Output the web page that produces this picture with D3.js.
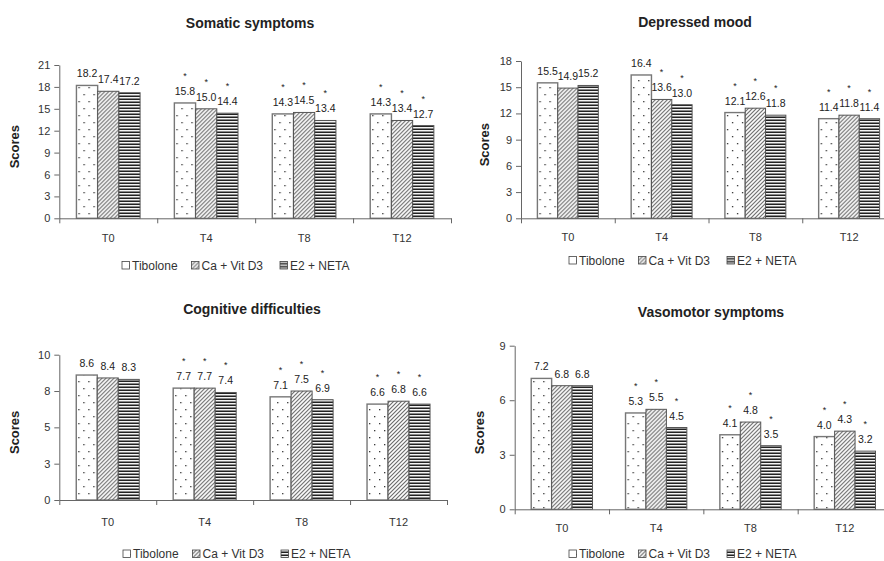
<!DOCTYPE html>
<html>
<head>
<meta charset="utf-8">
<script src="https://cdn.jsdelivr.net/npm/d3@7"></script>
<style>
  body { margin: 0; background: #fff; }
  text { font-family: "Liberation Sans", Arial, sans-serif; fill: #222; }
</style>
</head>
<body>
<svg id="chart" width="884" height="561"></svg>
<script>
// time points and treatment groups
const categories = ["T0", "T4", "T8", "T12"];
const groups = ["Tibolone", "Ca + Vit D3", "E2 + NETA"];

// mean scores, one row per time point: [Tibolone, Ca + Vit D3, E2 + NETA]
const somaticScores   = [[18.2, 17.4, 17.2], [15.8, 15.0, 14.4], [14.3, 14.5, 13.4], [14.3, 13.4, 12.7]];
const depressedScores = [[15.5, 14.9, 15.2], [16.4, 13.6, 13.0], [12.1, 12.6, 11.8], [11.4, 11.8, 11.4]];
const cognitiveScores = [[8.6, 8.4, 8.3], [7.7, 7.7, 7.4], [7.1, 7.5, 6.9], [6.6, 6.8, 6.6]];
const vasomotorScores = [[7.2, 6.8, 6.8], [5.3, 5.5, 4.5], [4.1, 4.8, 3.5], [4.0, 4.3, 3.2]];

// significance stars (1 = "*")
const somaticSig   = [[0, 0, 0], [1, 1, 1], [1, 1, 1], [1, 1, 1]];
const depressedSig = [[0, 0, 0], [0, 1, 1], [1, 1, 1], [1, 1, 1]];
const cognitiveSig = [[0, 0, 0], [1, 1, 1], [1, 1, 1], [1, 1, 1]];
const vasomotorSig = [[0, 0, 0], [1, 1, 1], [1, 1, 1], [1, 1, 1]];

// y ticks and their printed labels
const somaticTicks   = [0, 3, 6, 9, 12, 15, 18, 21];
const depressedTicks = [0, 3, 6, 9, 12, 15, 18];
const cognitiveTicks = [0, 2.5, 5, 7.5, 10];
const cognitiveTickLabels = ["0", "3", "5", "8", "10"];
const vasomotorTicks = [0, 3, 6, 9];

const svg = d3.select("#chart");
const defs = svg.append("defs");

// fill patterns, one per group
const pDots = defs.append("pattern").attr("id", "pDots")
  .attr("patternUnits", "userSpaceOnUse").attr("width", 10).attr("height", 14);
pDots.append("rect").attr("width", 10).attr("height", 14).attr("fill", "#fff");
pDots.append("rect").attr("x", 2).attr("y", 3).attr("width", 1.3).attr("height", 1.3).attr("fill", "#333");
pDots.append("rect").attr("x", 7).attr("y", 10).attr("width", 1.3).attr("height", 1.3).attr("fill", "#333");

const pDiag = defs.append("pattern").attr("id", "pDiag")
  .attr("patternUnits", "userSpaceOnUse").attr("width", 4).attr("height", 4);
pDiag.append("rect").attr("width", 4).attr("height", 4).attr("fill", "#fff");
pDiag.append("path").attr("d", "M-1,1L1,-1M0,4L4,0M3,5L5,3")
  .attr("stroke", "#666").attr("stroke-width", 1.1);

const pHoriz = defs.append("pattern").attr("id", "pHoriz")
  .attr("patternUnits", "userSpaceOnUse").attr("width", 4).attr("height", 3);
pHoriz.append("rect").attr("width", 4).attr("height", 3).attr("fill", "#888");
pHoriz.append("rect").attr("y", 0).attr("width", 4).attr("height", 1).attr("fill", "#222");
pHoriz.append("rect").attr("y", 1).attr("width", 4).attr("height", 1).attr("fill", "#f4f4f4");

const fills = ["url(#pDots)", "url(#pDiag)", "url(#pHoriz)"];

const panels = [
  { title: "Somatic symptoms", scores: somaticScores, sig: somaticSig, ticks: somaticTicks,
    x0: 59.3, x1: 451, yb: 218.3, yt: 65, titleX: 250, titleY: 28, labX: 15, catY: 242, legX: 122, legY: 269.5 },
  { title: "Depressed mood", scores: depressedScores, sig: depressedSig, ticks: depressedTicks,
    x0: 521, x1: 896, yb: 218.3, yt: 61, titleX: 695, titleY: 27, labX: 485, catY: 241, legX: 569, legY: 264.5 },
  { title: "Cognitive difficulties", scores: cognitiveScores, sig: cognitiveSig, ticks: cognitiveTicks,
    tickLabels: cognitiveTickLabels,
    x0: 59.3, x1: 447, yb: 500, yt: 354.7, titleX: 252, titleY: 314, labX: 15, catY: 526, legX: 123, legY: 558 },
  { title: "Vasomotor symptoms", scores: vasomotorScores, sig: vasomotorSig, ticks: vasomotorTicks,
    x0: 514.7, x1: 892, yb: 509.3, yt: 345.7, titleX: 711, titleY: 317, labX: 480, catY: 532, legX: 569, legY: 558 }
];

panels.forEach(drawPanel);

function drawPanel(p) {
  const g = svg.append("g");
  const yMax = p.ticks[p.ticks.length - 1];

  const x = d3.scaleBand().domain(categories).range([p.x0, p.x1])
    .paddingInner(0.35).paddingOuter(0.175);
  const xg = d3.scaleBand().domain(groups).range([0, x.bandwidth()]);
  const y = d3.scaleLinear().domain([0, yMax]).range([p.yb, p.yt]);

  // title
  g.append("text").attr("x", p.titleX).attr("y", p.titleY)
    .attr("text-anchor", "middle").attr("font-size", "14px").attr("font-weight", "bold")
    .text(p.title);

  // y axis label
  g.append("text")
    .attr("transform", "translate(" + (p.labX + 4) + "," + ((p.yb + p.yt) / 2 + 5) + ") rotate(-90)")
    .attr("text-anchor", "middle").attr("font-size", "13px").attr("font-weight", "bold")
    .text("Scores");

  // bars
  const rows = g.selectAll("g.cat").data(p.scores).enter().append("g")
    .attr("class", "cat")
    .attr("transform", (d, i) => "translate(" + x(categories[i]) + ",0)");

  rows.selectAll("rect").data(d => d).enter().append("rect")
    .attr("x", (d, j) => xg(groups[j]))
    .attr("y", d => y(d))
    .attr("width", xg.bandwidth())
    .attr("height", d => y(0) - y(d))
    .attr("fill", (d, j) => fills[j])
    .attr("stroke", (d, j) => j === 0 ? "#777" : "#555")
    .attr("stroke-width", (d, j) => j === 0 ? 1.4 : 1);

  // value labels
  rows.selectAll("text.val").data(d => d).enter().append("text")
    .attr("class", "val")
    .attr("x", (d, j) => xg(groups[j]) + xg.bandwidth() / 2)
    .attr("y", d => y(d) - 8)
    .attr("text-anchor", "middle").attr("font-size", "10.5px")
    .text(d => d.toFixed(1));

  // significance stars
  rows.each(function (d, i) {
    const row = d3.select(this);
    p.sig[i].forEach((s, j) => {
      if (!s) return;
      row.append("text").attr("class", "star")
        .attr("x", xg(groups[j]) + xg.bandwidth() / 2)
        .attr("y", y(d[j]) - 24)
        .attr("text-anchor", "middle").attr("font-size", "9px")
        .text("*");
    });
  });

  // y axis
  const yAxis = d3.axisLeft(y).tickValues(p.ticks).tickSizeInner(5).tickSizeOuter(0).tickPadding(4)
    .tickFormat((d, i) => p.tickLabels ? p.tickLabels[i] : d3.format("d")(d));
  const ya = g.append("g").attr("transform", "translate(" + p.x0 + ",0)").call(yAxis);
  ya.selectAll("text").attr("font-size", "11px").style("fill", "#333");
  ya.selectAll("path, line").attr("stroke", "#666");

  // category axis with tick marks between categories
  const xb = d3.scaleLinear().domain([0, categories.length]).range([p.x0, p.x1]);
  const xa = g.append("g").attr("transform", "translate(0," + p.yb + ")")
    .call(d3.axisBottom(xb).tickValues(d3.range(categories.length + 1))
      .tickSizeInner(5).tickSizeOuter(0).tickFormat(""));
  xa.selectAll("path, line").attr("stroke", "#666");

  g.selectAll("text.cat").data(categories).enter().append("text")
    .attr("class", "cat")
    .attr("x", d => x(d) + x.bandwidth() / 2)
    .attr("y", p.catY)
    .attr("text-anchor", "middle").attr("font-size", "11px").style("fill", "#333")
    .text(d => d);

  // legend
  const legOffsets = [0, 69.5, 158];
  const leg = g.selectAll("g.leg").data(groups).enter().append("g")
    .attr("class", "leg")
    .attr("transform", (d, j) => "translate(" + (p.legX + legOffsets[j]) + "," + p.legY + ")");
  leg.append("rect").attr("x", 0).attr("y", -8).attr("width", 7.5).attr("height", 7.5)
    .attr("fill", (d, j) => fills[j]).attr("stroke", "#444").attr("stroke-width", 0.8);
  leg.append("text").attr("x", 10).attr("y", 0).attr("font-size", "12px").style("fill", "#333")
    .text(d => d);
}
</script>
</body>
</html>
